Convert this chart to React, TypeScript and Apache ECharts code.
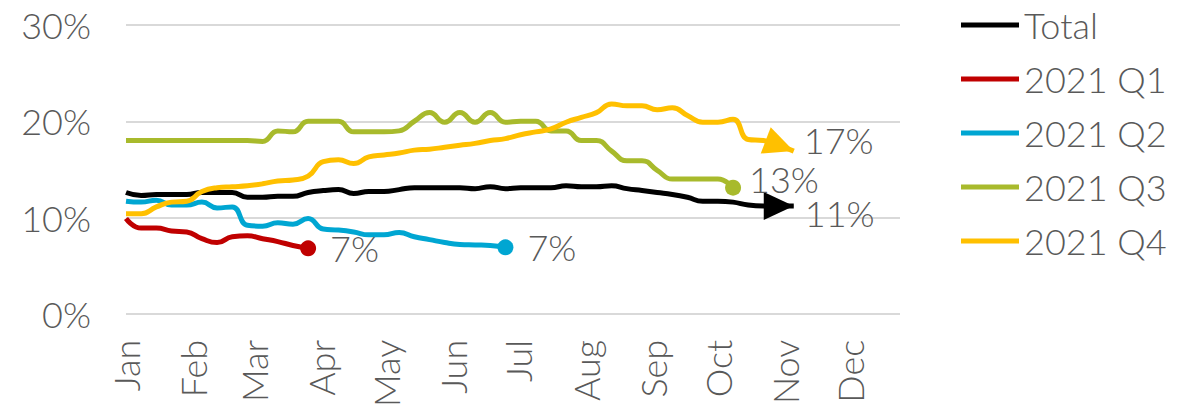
import React, { useEffect, useRef } from "react";
import * as echarts from "echarts";

const MONTHS = ["Jan", "Feb", "Mar", "Apr", "May", "Jun", "Jul", "Aug", "Sep", "Oct", "Nov", "Dec"];
const MONTH_START_DAYS = [0, 31, 59, 90, 120, 151, 181, 212, 243, 273, 304, 334];
const AXIS_END_DAY = 357;
const DAYS_PER_WEEK = 7;
const Y_TICKS = [0, 10, 20, 30];

// weekly values (%)
const TOTAL = [12.6, 12.3, 12.4, 12.4, 12.4, 12.6, 12.6, 12.6, 12.1, 12.1, 12.2, 12.2, 12.6, 12.8, 12.9, 12.5, 12.7, 12.7, 12.9, 13.1, 13.1, 13.1, 13.1, 13.0, 13.2, 13.0, 13.1, 13.1, 13.1, 13.3, 13.2, 13.2, 13.3, 13.0, 12.8, 12.6, 12.4, 12.1, 11.7, 11.7, 11.6, 11.3, 11.2, 11.2, 11.2];
const Q1 = [9.9, 8.9, 8.9, 8.6, 8.5, 7.8, 7.4, 8.0, 8.1, 7.8, 7.5, 7.1, 6.8];
const Q2 = [11.7, 11.6, 11.8, 11.3, 11.3, 11.6, 11.0, 11.1, 9.2, 9.1, 9.45, 9.3, 9.9, 8.8, 8.7, 8.5, 8.2, 8.2, 8.45, 8.0, 7.7, 7.4, 7.2, 7.15, 7.1, 6.9];
const Q3 = [18.0, 18.0, 18.0, 18.0, 18.0, 18.0, 18.0, 18.0, 18.0, 17.9, 19.0, 18.9, 20.0, 20.0, 20.0, 18.9, 18.9, 18.9, 19.0, 20.0, 20.9, 19.9, 20.9, 19.9, 20.9, 19.9, 20.0, 20.0, 19.0, 19.0, 18.0, 18.0, 16.9, 15.9, 15.9, 14.9, 14.0, 14.0, 14.0, 14.0, 13.1];
const Q4 = [10.4, 10.4, 11.1, 11.6, 11.7, 12.7, 13.1, 13.2, 13.3, 13.5, 13.8, 13.9, 14.3, 15.8, 16.0, 15.6, 16.3, 16.5, 16.7, 17.0, 17.1, 17.3, 17.5, 17.7, 18.0, 18.2, 18.6, 18.9, 19.2, 19.9, 20.4, 20.9, 21.8, 21.6, 21.6, 21.2, 21.4, 20.6, 19.9, 19.9, 20.2, 18.1, 18.0, 17.5, 16.9];

const SERIES = [
  { name: "Total", color: "#000000", values: TOTAL, end: "arrow", labelDist: 11, labelDy: 7 },
  { name: "2021 Q1", color: "#C00000", values: Q1, end: "dot", labelDist: 22, labelDy: 0 },
  { name: "2021 Q2", color: "#00A6D2", values: Q2, end: "dot", labelDist: 22, labelDy: 0 },
  { name: "2021 Q3", color: "#A8BA2C", values: Q3, end: "dot", labelDist: 16, labelDy: -9 },
  { name: "2021 Q4", color: "#FFC000", values: Q4, end: "arrow", labelDist: 10, labelDy: -11 },
];

const FONT = "Lato, 'Noto Sans', sans-serif";
const TEXT_COLOR = "#595959";
const ARROW_W = 28;
const ARROW_L = 30;

function buildOption(arrowAngles: Record<string, number>) {
  return {
    animation: false,
    textStyle: { fontFamily: FONT },
    grid: { left: 126, right: 289, top: 25, bottom: 94 },
    legend: {
      orient: "vertical",
      left: 956,
      top: 0,
      icon: "rect",
      itemWidth: 58,
      itemHeight: 5,
      itemGap: 14,
      textStyle: { color: TEXT_COLOR, fontSize: 36, fontFamily: FONT, fontWeight: 300, lineHeight: 40 },
      data: SERIES.map((s) => s.name),
    },
    xAxis: {
      type: "value",
      min: 0,
      max: AXIS_END_DAY,
      splitLine: { show: false },
      axisLine: { show: false },
      axisTick: { show: false },
      axisLabel: {
        customValues: MONTH_START_DAYS,
        rotate: 90,
        margin: 26,
        color: TEXT_COLOR,
        fontSize: 36,
        fontFamily: FONT,
        fontWeight: 300,
        formatter: (v: number) => MONTHS[MONTH_START_DAYS.indexOf(v)] ?? "",
      },
    },
    yAxis: {
      type: "value",
      min: Y_TICKS[0],
      max: Y_TICKS[Y_TICKS.length - 1],
      interval: 10,
      axisLine: { show: false },
      axisTick: { show: false },
      splitLine: { lineStyle: { color: "#D9D9D9", width: 2 } },
      axisLabel: {
        margin: 35,
        color: TEXT_COLOR,
        fontSize: 36,
        fontFamily: FONT,
        fontWeight: 300,
        formatter: "{value}%",
      },
    },
    series: SERIES.map((s) => {
      const last = s.values.length - 1;
      const ang = arrowAngles[s.name] ?? 0;
      const rad = (ang * Math.PI) / 180;
      const data = s.values.map((v, i) => {
        const pt = [i * DAYS_PER_WEEK, v];
        if (i !== last) return pt;
        if (s.end === "dot") {
          return { value: pt, symbol: "circle", symbolSize: 16 };
        }
        return {
          value: pt,
          symbol: "triangle",
          symbolSize: [ARROW_W, ARROW_L],
          symbolRotate: -90 - ang,
          symbolOffset: [-(ARROW_L / 2) * Math.cos(rad), -(ARROW_L / 2) * Math.sin(rad)],
        };
      });
      return {
        name: s.name,
        type: "line",
        smooth: 0.5,
        symbol: "none",
        color: s.color,
        lineStyle: { color: s.color, width: 5 },
        itemStyle: { color: s.color },
        emphasis: { disabled: true },
        data,
        endLabel: {
          show: true,
          distance: s.labelDist,
          offset: [0, s.labelDy],
          color: TEXT_COLOR,
          fontSize: 36,
          fontFamily: FONT,
          fontWeight: 300,
          formatter: (p: any) => Math.round(p.value[1]) + "%",
        },
      };
    }),
  };
}

export default function App() {
  const ref = useRef<HTMLDivElement>(null);
  useEffect(() => {
    if (!ref.current) return;
    const chart = echarts.init(ref.current, undefined, { renderer: "svg" });
    chart.setOption(buildOption({}) as any);
    const angles: Record<string, number> = {};
    SERIES.forEach((s) => {
      if (s.end !== "arrow") return;
      const n = s.values.length;
      const a = chart.convertToPixel({ gridIndex: 0 }, [(n - 2) * DAYS_PER_WEEK, s.values[n - 2]]) as number[];
      const b = chart.convertToPixel({ gridIndex: 0 }, [(n - 1) * DAYS_PER_WEEK, s.values[n - 1]]) as number[];
      angles[s.name] = (Math.atan2(b[1] - a[1], b[0] - a[0]) * 180) / Math.PI;
    });
    chart.setOption(buildOption(angles) as any, true);
    return () => chart.dispose();
  }, []);
  return <div ref={ref} style={{ position: "absolute", left: 0, top: 0, width: 1189, height: 410 }} />;
}
